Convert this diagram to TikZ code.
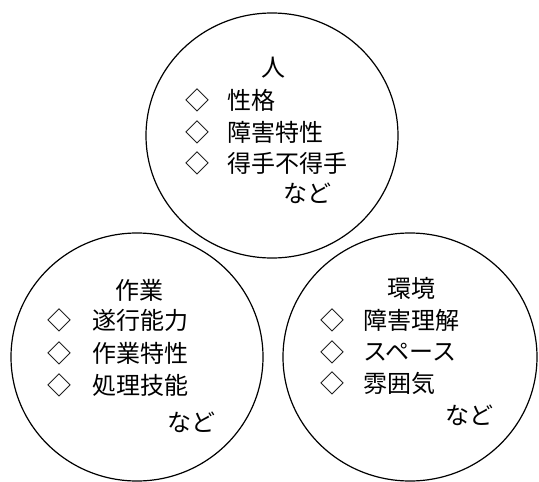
\documentclass[tikz,border=0pt]{standalone}
\usepackage{fontspec}
\setmainfont{Noto Sans CJK JP}
\usetikzlibrary{shapes.geometric}
\begin{document}
\begin{tikzpicture}[x=1pt,y=-1pt,
  ring/.style={draw, line width=1.2pt, shape=ellipse, inner sep=0pt, outer sep=0pt},
  txt/.style={inner sep=0pt, font=\fontsize{24}{28}\selectfont},
  item/.style={txt, anchor=west},
  bullet/.style={txt}
]
\useasboundingbox (0,0) rectangle (539,482);
% circles
\node[ring, minimum width=252pt, minimum height=245pt] (top) at (272,135.5) {};
\node[ring, minimum width=252pt, minimum height=248pt] (left) at (137,357) {};
\node[ring, minimum width=254pt, minimum height=248pt] (right) at (410,357) {};
% top circle
\node[txt] (t0) at (273,68) {人};
\node[bullet] (td1) at (197,100) {◇};
\node[bullet] (td2) at (197,132) {◇};
\node[bullet] (td3) at (197,163) {◇};
\node[item] (t1) at (227,100) {性格};
\node[item] (t2) at (227,132) {障害特性};
\node[item] (t3) at (227,163) {得手不得手};
\node[item] (t4) at (283,193) {など};
% left circle
\node[txt] (l0) at (139,290) {作業};
\node[bullet] (ld1) at (60,320) {◇};
\node[bullet] (ld2) at (60,353) {◇};
\node[bullet] (ld3) at (60,385) {◇};
\node[item] (l1) at (92,320) {遂行能力};
\node[item] (l2) at (92,353) {作業特性};
\node[item] (l3) at (92,385) {処理技能};
\node[item] (l4) at (167,422) {など};
% right circle
\node[txt] (r0) at (411,288) {環境};
\node[bullet] (rd1) at (332,320) {◇};
\node[bullet] (rd2) at (332,352) {◇};
\node[bullet] (rd3) at (332,383) {◇};
\node[item] (r1) at (363,320) {障害理解};
\node[item] (r2) at (363,352) {スペース};
\node[item] (r3) at (363,383) {雰囲気};
\node[item] (r4) at (445,415) {など};
\end{tikzpicture}
\end{document}
